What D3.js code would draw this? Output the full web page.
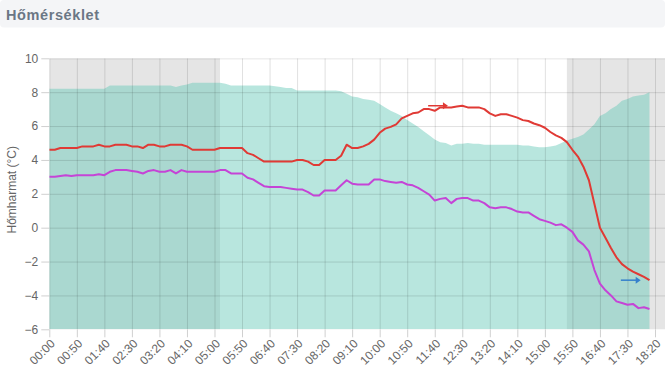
<!DOCTYPE html>
<html>
<head>
<meta charset="utf-8">
<script src="https://cdn.jsdelivr.net/npm/d3@7"></script>
<style>
  body { margin: 0; background: #fff; }
  text { font-family: "Liberation Sans", Arial, sans-serif; }
</style>
</head>
<body>
<div id="chart"></div>
<script>
// Adatok (10 perces lépés, 00:00-tól)
// ===================================
var startTime = "00:00", stepMin = 10;

var homerseklet = [4.6,4.6,4.7,4.7,4.7,4.7,4.8,4.8,4.8,4.9,4.8,4.8,4.9,4.9,4.9,4.8,4.8,4.7,4.9,4.9,
  4.8,4.8,4.9,4.9,4.9,4.8,4.6,4.6,4.6,4.6,4.6,4.7,4.7,4.7,4.7,4.7,4.4,4.3,4.1,3.9,
  3.9,3.9,3.9,3.9,3.9,4.0,4.0,3.9,3.7,3.7,4.0,4.0,4.0,4.25,4.9,4.7,4.7,4.8,4.95,5.2,
  5.6,5.85,5.95,6.1,6.45,6.6,6.75,6.8,7.0,7.0,6.9,7.1,7.1,7.1,7.15,7.2,7.1,7.1,7.1,7.0,
  6.75,6.6,6.7,6.7,6.6,6.5,6.35,6.3,6.15,6.05,5.9,5.65,5.45,5.3,5.05,4.6,4.2,3.6,2.8,1.4,
  0.0,-0.6,-1.2,-1.75,-2.15,-2.4,-2.6,-2.75,-2.9,-3.1];

var harmatpont = [3.0,3.0,3.05,3.1,3.05,3.1,3.1,3.1,3.1,3.15,3.1,3.3,3.4,3.4,3.4,3.35,3.3,3.2,3.35,3.4,
  3.3,3.3,3.4,3.2,3.4,3.3,3.3,3.3,3.3,3.3,3.3,3.4,3.4,3.2,3.2,3.2,2.95,2.85,2.65,2.45,
  2.4,2.4,2.4,2.35,2.3,2.25,2.25,2.1,1.9,1.9,2.2,2.2,2.2,2.5,2.8,2.6,2.55,2.55,2.55,2.85,
  2.85,2.75,2.7,2.65,2.7,2.55,2.5,2.35,2.15,1.95,1.6,1.7,1.75,1.45,1.7,1.75,1.75,1.6,1.6,1.45,
  1.2,1.15,1.2,1.2,1.1,0.95,0.9,0.9,0.7,0.5,0.4,0.3,0.15,0.2,0.0,-0.25,-0.75,-1.0,-1.4,-2.5,
  -3.3,-3.7,-4.0,-4.35,-4.45,-4.55,-4.5,-4.75,-4.7,-4.8];

var terulet = [8.2,8.2,8.2,8.2,8.2,8.2,8.2,8.2,8.2,8.2,8.2,8.4,8.4,8.4,8.4,8.4,8.4,8.4,8.4,8.4,
  8.4,8.4,8.4,8.3,8.4,8.45,8.55,8.55,8.55,8.55,8.55,8.55,8.5,8.4,8.4,8.4,8.4,8.4,8.4,8.4,
  8.4,8.35,8.3,8.25,8.25,8.1,8.1,8.1,8.1,8.1,8.1,8.1,8.1,8.05,7.9,7.75,7.7,7.6,7.55,7.5,
  7.3,7.1,6.9,6.75,6.6,6.35,6.15,5.95,5.7,5.45,5.2,5.05,5.0,4.85,4.95,4.95,5.0,4.95,4.95,4.9,
  4.9,4.9,4.9,4.9,4.9,4.9,4.85,4.85,4.8,4.75,4.75,4.8,4.85,5.0,5.15,5.25,5.35,5.5,5.8,6.1,
  6.6,6.75,7.0,7.2,7.5,7.6,7.75,7.8,7.85,8.0];

var ejszaka = [["00:00", "05:10"], ["15:40", "18:40"]];

var xTickLabels = ["00:00","00:50","01:40","02:30","03:20","04:10","05:00","05:50","06:40","07:30","08:20",
  "09:10","10:00","10:50","11:40","12:30","13:20","14:10","15:00","15:50","16:40","17:30","18:20"];
var yTicks = [-6, -4, -2, 0, 2, 4, 6, 8, 10];

var nyilak = [
  { from: "11:28", to: "12:04", value: 7.2, color: "#e03a35" },
  { from: "17:18", to: "17:54", value: -3.1, color: "#3580cc" }
];

// Méretek
// =======
var W = 665, H = 375;
var plot = { left: 49.3, right: 666, top: 58.3, bottom: 329.3 };

var svg = d3.select("#chart").append("svg")
  .attr("width", W).attr("height", H);

// Fejléc
svg.append("rect")
  .attr("x", 0).attr("y", 0).attr("width", W).attr("height", 27.5)
  .attr("rx", 4).attr("fill", "#f4f5f7");
svg.append("text")
  .attr("x", 6).attr("y", 20)
  .attr("font-size", "14.5px").attr("font-weight", "bold")
  .attr("letter-spacing", "0.6px")
  .attr("fill", "#6b7785")
  .text("Hőmérséklet");

var parse = d3.timeParse("%H:%M");
var t0 = parse(startTime);
function idoPont(i) { return d3.timeMinute.offset(t0, i * stepMin); }

var x = d3.scaleTime()
  .domain([parse("00:00"), parse("18:40")])
  .range([plot.left, plot.right]);
var y = d3.scaleLinear()
  .domain([-6, 10])
  .range([plot.bottom, plot.top]);

svg.append("clipPath").attr("id", "clip")
  .append("rect")
  .attr("x", plot.left).attr("y", plot.top)
  .attr("width", plot.right - plot.left).attr("height", plot.bottom - plot.top);

var g = svg.append("g").attr("clip-path", "url(#clip)");

// Éjszakai sávok
g.selectAll(".ejszaka")
  .data(ejszaka)
  .enter().append("rect")
  .attr("x", function(d) { return x(parse(d[0])); })
  .attr("width", function(d) { return x(parse(d[1])) - x(parse(d[0])); })
  .attr("y", plot.top).attr("height", plot.bottom - plot.top)
  .attr("fill", "#e5e5e5");

// Terület
g.append("path")
  .datum(terulet)
  .attr("fill", "rgba(100,200,183,0.46)")
  .attr("d", d3.area()
    .x(function(d, i) { return x(idoPont(i)); })
    .y0(y(-6))
    .y1(function(d) { return y(d); }));

// Rácsvonalak
var tickDates = xTickLabels.map(function(s) { return parse(s); });

g.append("g")
  .attr("transform", "translate(0," + plot.bottom + ")")
  .call(d3.axisBottom(x).tickValues(tickDates).tickSize(-(plot.bottom - plot.top)).tickFormat(""))
  .call(function(a) {
    a.select(".domain").remove();
    a.selectAll("line").attr("stroke", "rgba(0,0,0,0.12)");
  });
g.append("g")
  .attr("transform", "translate(" + plot.left + ",0)")
  .call(d3.axisLeft(y).tickValues(yTicks).tickSize(-(plot.right - plot.left)).tickFormat(""))
  .call(function(a) {
    a.select(".domain").remove();
    a.selectAll("line").attr("stroke", "rgba(0,0,0,0.12)");
  });

// Vonalak
var line = d3.line()
  .x(function(d, i) { return x(idoPont(i)); })
  .y(function(d) { return y(d); });

g.append("path")
  .datum(harmatpont)
  .attr("fill", "none").attr("stroke", "#c544d6").attr("stroke-width", 2)
  .attr("stroke-linejoin", "round")
  .attr("d", line);

g.append("path")
  .datum(homerseklet)
  .attr("fill", "none").attr("stroke", "#e03a35").attr("stroke-width", 2)
  .attr("stroke-linejoin", "round")
  .attr("d", line);

// Nyilak
nyilak.forEach(function(n) {
  var x1 = x(parse(n.from)), x2 = x(parse(n.to)), yy = y(n.value);
  svg.append("line")
    .attr("x1", x1).attr("x2", x2 - 3).attr("y1", yy).attr("y2", yy)
    .attr("stroke", n.color).attr("stroke-width", 1.5);
  svg.append("path")
    .attr("d", "M" + (x2 - 5) + "," + (yy - 3.5) + "L" + x2 + "," + yy + "L" + (x2 - 5) + "," + (yy + 3.5) + "Z")
    .attr("fill", n.color);
});

// Tengelyek
var yAxis = svg.append("g")
  .attr("transform", "translate(" + plot.left + ",0)")
  .call(d3.axisLeft(y).tickValues(yTicks).tickSize(8).tickPadding(3));
yAxis.select(".domain").remove();
yAxis.selectAll("line").attr("stroke", "#d0d0d0");
yAxis.selectAll("text").attr("fill", "#666").attr("font-size", "12px")
  .attr("font-family", "'Liberation Sans', Arial, sans-serif");

var xAxis = svg.append("g")
  .attr("transform", "translate(0," + plot.bottom + ")")
  .call(d3.axisBottom(x).tickValues(tickDates).tickSize(8).tickFormat(d3.timeFormat("%H:%M")));
xAxis.select(".domain").remove();
xAxis.selectAll("line").attr("stroke", "#d0d0d0");
xAxis.selectAll("text")
  .attr("fill", "#666").attr("font-size", "12px")
  .attr("font-family", "'Liberation Sans', Arial, sans-serif")
  .attr("text-anchor", "end")
  .attr("transform", "translate(3,12) rotate(-45)")
  .attr("x", 0).attr("y", 0).attr("dy", "0.35em");

svg.append("text")
  .attr("transform", "translate(16," + ((plot.top + plot.bottom) / 2 - 4) + ") rotate(-90)")
  .attr("text-anchor", "middle")
  .attr("fill", "#666").attr("font-size", "12px")
  .text("Hőmharmat (°C)");
</script>
</body>
</html>
